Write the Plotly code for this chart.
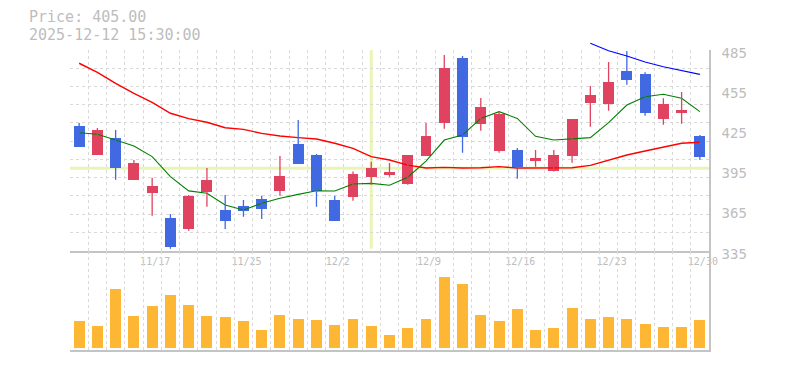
import plotly.graph_objects as go

# ---------------- data ----------------
dates = ["11/11", "11/12", "11/13", "11/14", "11/17", "11/18", "11/19", "11/20", "11/21",
         "11/25", "11/26", "11/27", "11/28", "12/1", "12/2", "12/3", "12/4", "12/5", "12/8",
         "12/9", "12/10", "12/11", "12/12", "12/15", "12/16", "12/17", "12/18", "12/19",
         "12/22", "12/23", "12/24", "12/25", "12/26", "12/29", "12/30"]

opens = [428.2, 406.5, 419.2, 388.1, 378.3, 359.4, 351.2, 379.1, 365.4, 368.4, 373.6, 379.8,
         414.7, 406.5, 372.9, 375.4, 390.3, 391.8, 385.1, 406.0, 430.7, 479.0, 429.9, 409.7,
         410.3, 402.3, 394.8, 406.0, 445.6, 444.9, 469.3, 467.1, 433.7, 438.1, 420.7]
highs = [430.4, 426.7, 425.2, 402.8, 389.6, 362.4, 376.6, 396.8, 376.6, 372.9, 376.1, 405.8,
         432.7, 407.3, 376.1, 394.1, 401.5, 400.5, 406.5, 430.4, 481.3, 480.5, 449.1, 438.9,
         411.8, 410.3, 410.3, 433.4, 458.1, 476.0, 484.3, 468.3, 448.9, 453.6, 421.5]
lows = [412.7, 406.5, 388.1, 388.1, 361.2, 336.5, 350.0, 367.9, 351.2, 360.4, 358.7, 376.1,
        400.0, 367.9, 357.4, 372.4, 384.3, 390.3, 384.3, 406.0, 426.2, 408.2, 424.7, 408.2,
        388.8, 397.8, 394.1, 400.8, 427.7, 439.6, 459.1, 435.9, 429.2, 429.9, 403.0]
closes = [412.7, 425.2, 397.0, 400.5, 383.4, 338.0, 376.1, 387.8, 357.4, 364.9, 366.4, 390.8,
          400.0, 379.8, 357.4, 392.3, 396.8, 393.8, 406.5, 420.7, 471.5, 420.2, 442.4, 437.4,
          397.8, 404.3, 406.5, 433.4, 451.4, 461.1, 462.8, 438.1, 444.6, 440.4, 405.3]

ma_short = [423.2, 422.0, 417.7, 413.2, 405.3, 390.3, 379.7, 377.9, 369.2, 365.4, 370.4, 374.2,
            377.1, 379.8, 379.6, 384.8, 385.3, 383.9, 389.9, 402.0, 417.7, 421.5, 433.9, 438.9,
            433.9, 420.5, 417.7, 418.5, 419.5, 430.7, 443.9, 450.1, 451.9, 448.9, 438.9]
ma_mid = [475.1, 468.3, 460.1, 452.6, 445.9, 437.7, 433.7, 431.0, 426.9, 425.7, 422.7, 420.7,
          419.5, 418.5, 415.3, 411.5, 405.3, 402.8, 399.0, 396.8, 397.3, 396.8, 397.0, 397.8,
          396.8, 396.9, 397.0, 397.0, 398.8, 402.8, 406.5, 409.5, 412.3, 415.3, 416.0]
ma_long = [None] * 28 + [490.0, 484.5, 480.5, 476.0, 472.5, 469.8, 466.8]

volumes = [267, 217, 587, 317, 417, 527, 427, 317, 307, 267, 177, 327, 287, 277, 227, 287,
           217, 127, 197, 287, 710, 637, 327, 267, 387, 177, 197, 397, 287, 307, 287, 237,
           207, 207, 277]

price_text = "Price: 405.00"
time_text = "2025-12-12 15:30:00"
cross_index = 16
cross_price = 396.6

price_ticks = [335, 365, 395, 425, 455, 485]
label_every = 5
label_start = 4

# ---------------- styling ----------------
UP = "#E0435F"
DOWN = "#4169E1"
VOL = "#FDB734"
GRID = "#d9d9d9"
AXIS = "#c4c4c4"
TXT = "#bdbdbd"
CROSS = "#E8F5B4"

# page layout (page pixels); the page body adds an 8px margin around the figure
PAGE_W, PAGE_H = 785, 370
BODY = 8
W, H = PAGE_W - BODY, PAGE_H - BODY
PL, PR_EDGE, PT, PB_EDGE = 70, 709.5, 30, 350      # plot area in page pixels
plot_h = PB_EDGE - PT
plot_w = PR_EDGE - PL
price_top_px, price_bot_px = 50, 250.7
pmin, pmax = price_ticks[0], price_ticks[-1]


def frac(py):
    return (PB_EDGE - py) / plot_h


price_dom = [frac(price_bot_px), frac(price_top_px)]
scale = (pmax - pmin) / (price_bot_px - price_top_px)
ext_top = pmax + (price_top_px - PT) * scale
vol_dom = [0, price_dom[0]]
vol_per_px = 10.0
vol_lo = -2.3 * vol_per_px
vol_hi = vol_lo + (PB_EDGE - price_bot_px) * vol_per_px

n = len(dates)
idx = list(range(n))
up = [c >= o for o, c in zip(opens, closes)]
colors = [UP if u else DOWN for u in up]

fig = go.Figure()

# moving averages (below candles)
fig.add_trace(go.Scatter(x=idx, y=ma_mid, mode="lines", line=dict(color="#FF0000", width=1.4),
                         hoverinfo="skip", xaxis="x", yaxis="y"))
fig.add_trace(go.Scatter(x=idx, y=ma_short, mode="lines", line=dict(color="#008000", width=1.1),
                         hoverinfo="skip", xaxis="x", yaxis="y"))

# wicks
for flag, col in ((True, UP), (False, DOWN)):
    wx, wy = [], []
    for i in idx:
        if up[i] == flag:
            wx += [i, i, None]
            wy += [lows[i], highs[i], None]
    fig.add_trace(go.Scatter(x=wx, y=wy, mode="lines", line=dict(color=col, width=1.3),
                             hoverinfo="skip", xaxis="x", yaxis="y"))

# bodies
fig.add_trace(go.Bar(x=idx, base=[min(o, c) for o, c in zip(opens, closes)],
                     y=[max(abs(c - o), 0.6) for o, c in zip(opens, closes)],
                     width=0.6, marker=dict(color=colors, line=dict(width=0)),
                     hoverinfo="skip", xaxis="x", yaxis="y"))

# long MA on an extended (hidden) axis pair so it is not clipped at the panel top
fig.add_trace(go.Scatter(x=idx, y=ma_long, mode="lines", line=dict(color="#0000FF", width=1.1),
                         hoverinfo="skip", xaxis="x3", yaxis="y3"))

# volume
fig.add_trace(go.Bar(x=idx, y=volumes, width=0.6, marker=dict(color=VOL, line=dict(width=0)),
                     hoverinfo="skip", xaxis="x2", yaxis="y2"))

bounds = [i - 0.5 for i in idx]
minor_x = dict(tickvals=bounds, showgrid=True, gridcolor=GRID, griddash="3px,3px", gridwidth=1, ticks="")
grid_y = [pmin + k * (pmax - pmin) / 11 for k in range(1, 12)]

tick_idx = list(range(label_start, n, label_every))
xr = [-0.5, n - 0.5]
NOTICK = "rgba(0,0,0,0)"

fig.update_layout(
    width=W, height=H,
    margin=dict(l=PL - BODY, r=W - (PR_EDGE - BODY), t=PT - BODY, b=H - (PB_EDGE - BODY), autoexpand=False),
    paper_bgcolor="white", plot_bgcolor="rgba(0,0,0,0)",
    showlegend=False, bargap=0,
    xaxis=dict(domain=[0, 1], range=xr, anchor="y", showgrid=False, zeroline=False,
               showline=True, linecolor=AXIS, linewidth=1.5, automargin=False,
               tickvals=tick_idx, ticktext=[dates[i] for i in tick_idx],
               ticks="outside", ticklen=1, tickcolor=NOTICK,
               tickfont=dict(family="DejaVu Sans Mono", size=10, color=TXT),
               ticklabelshift=3, minor=minor_x),
    yaxis=dict(domain=price_dom, range=[pmin, pmax], anchor="x", side="right", showgrid=False,
               zeroline=False, showline=True, linecolor=AXIS, linewidth=1.5, automargin=False,
               tickvals=price_ticks, ticks="outside", ticklen=8, tickcolor=NOTICK, ticklabelshift=3,
               tickfont=dict(family="DejaVu Sans Mono", size=14, color=TXT),
               minor=dict(tickvals=grid_y, showgrid=True, gridcolor=GRID, griddash="3px,3px",
                          gridwidth=1, ticks="")),
    xaxis3=dict(domain=[0, 1], range=xr, anchor="y3", visible=False, showgrid=False, zeroline=False),
    yaxis3=dict(domain=[price_dom[0], 1], range=[pmin, ext_top], anchor="x3", visible=False,
                showgrid=False, zeroline=False),
    xaxis2=dict(domain=[0, 1], range=xr, anchor="y2", showgrid=False, automargin=False,
                zeroline=False, showline=True, linecolor=AXIS, linewidth=1.5,
                showticklabels=False, ticks="", minor=minor_x),
    yaxis2=dict(domain=vol_dom, range=[vol_lo, vol_hi], anchor="x2", side="right", showgrid=False,
                zeroline=False, showline=True, linecolor=AXIS, linewidth=1.5, automargin=False,
                showticklabels=False, ticks=""),
)

# crosshair
fig.add_shape(type="line", xref="x", yref="y domain", x0=cross_index, x1=cross_index, y0=0.01, y1=1,
              line=dict(color=CROSS, width=3), layer="below")
fig.add_shape(type="line", xref="x domain", yref="y", x0=0, x1=1, y0=cross_price, y1=cross_price,
              line=dict(color=CROSS, width=3), layer="below")

# header text (two lines)
span = '<span style="font-size:15px">{}</span>'
fig.add_annotation(text=span.format(price_text) + "<br>" + span.format(time_text),
                   xref="paper", yref="paper",
                   x=(28 - PL) / plot_w, y=frac(26.5), xanchor="left", yanchor="middle",
                   align="left", showarrow=False, borderpad=0,
                   font=dict(family="DejaVu Sans Mono", size=13.6, color=TXT))

fig.write_html("out.html")
